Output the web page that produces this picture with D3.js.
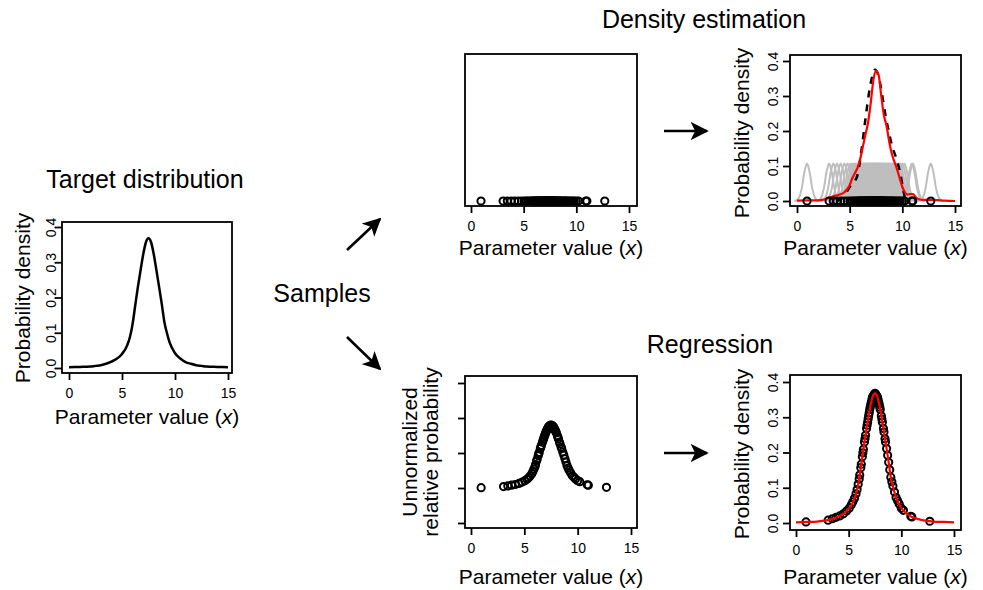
<!DOCTYPE html>
<html>
<head>
<meta charset="utf-8">
<script src="https://cdn.jsdelivr.net/npm/d3@7"></script>
<style>
  body { margin: 0; background: #fff; }
  text { font-family: "Liberation Sans", Arial, sans-serif; fill: #000; }
</style>
</head>
<body>
<div id="chart"></div>
<script>
    const W = 983
    const H = 590

    // axis ticks
    const xTicks = [0, 5, 10, 15]
    const densTicks = [0, 0.1, 0.2, 0.3, 0.4]
    const relTicks = [-1, 0, 1, 2, 3]

    // target density
    const targetX = [0, 1, 2, 2.5, 3, 3.5, 4, 4.5, 5, 5.5, 5.75, 6, 6.25, 6.5, 6.75, 7, 7.25, 7.5,
                     7.75, 8, 8.25, 8.5, 8.75, 9, 9.25, 9.5, 10, 10.5, 11, 11.5, 12, 12.5, 13, 14, 15]
    const targetY = [0.002, 0.003, 0.004, 0.006, 0.008, 0.012, 0.018, 0.026, 0.040, 0.065, 0.088, 0.125, 0.178, 0.230, 0.277, 0.322, 0.356, 0.368,
                     0.356, 0.322, 0.277, 0.230, 0.182, 0.130, 0.098, 0.072, 0.042, 0.027, 0.017, 0.012, 0.008, 0.006, 0.004, 0.003, 0.002]

    // samples drawn from the target
    const sampleX = [0.95, 3.05, 3.45, 3.8, 4.15, 4.5, 4.8, 5.05, 5.25, 5.4,
                     5.55, 5.7, 5.8, 5.9, 6.0, 6.05, 6.15, 6.2, 6.3, 6.35,
                     6.4, 6.5, 6.55, 6.6, 6.7, 6.75, 6.8, 6.85, 6.9, 6.95,
                     7.0, 7.05, 7.1, 7.15, 7.2, 7.25, 7.3, 7.35, 7.4, 7.45,
                     7.5, 7.55, 7.6, 7.65, 7.7, 7.75, 7.8, 7.85, 7.9, 7.95,
                     8.0, 8.1, 8.15, 8.2, 8.3, 8.35, 8.45, 8.5, 8.6, 8.7,
                     8.8, 8.9, 9.0, 9.1, 9.2, 9.35, 9.5, 9.65, 9.8, 10.0,
                     10.2, 10.9, 11.0, 12.7]
    // density at each sample (regression panel)
    const sampleDensity = [0.003, 0.008, 0.012, 0.016, 0.020, 0.026, 0.034, 0.042, 0.052, 0.060,
                           0.070, 0.083, 0.095, 0.110, 0.125, 0.136, 0.157, 0.167, 0.188, 0.199,
                           0.209, 0.230, 0.239, 0.249, 0.268, 0.277, 0.286, 0.295, 0.304, 0.313,
                           0.322, 0.329, 0.336, 0.342, 0.349, 0.356, 0.358, 0.361, 0.363, 0.366,
                           0.368, 0.366, 0.363, 0.361, 0.358, 0.356, 0.349, 0.342, 0.336, 0.329,
                           0.322, 0.304, 0.295, 0.286, 0.268, 0.258, 0.239, 0.230, 0.211, 0.192,
                           0.172, 0.151, 0.130, 0.117, 0.105, 0.088, 0.072, 0.063, 0.054, 0.042,
                           0.036, 0.019, 0.017, 0.005]
    // unnormalized relative probability at each sample
    const sampleRel = [0.01, 0.04, 0.06, 0.08, 0.10, 0.13, 0.17, 0.21, 0.25, 0.29,
                       0.34, 0.41, 0.47, 0.54, 0.61, 0.67, 0.77, 0.82, 0.92, 0.98,
                       1.02, 1.13, 1.17, 1.22, 1.31, 1.36, 1.40, 1.45, 1.49, 1.53,
                       1.58, 1.61, 1.65, 1.68, 1.71, 1.74, 1.75, 1.77, 1.78, 1.79,
                       1.80, 1.79, 1.78, 1.77, 1.75, 1.74, 1.71, 1.68, 1.65, 1.61,
                       1.58, 1.49, 1.45, 1.40, 1.31, 1.26, 1.17, 1.13, 1.03, 0.94,
                       0.84, 0.74, 0.64, 0.57, 0.51, 0.43, 0.35, 0.31, 0.26, 0.21,
                       0.18, 0.09, 0.08, 0.02]

    // kernel density estimate (red, top right)
    const kdeX = [0, 1, 2, 2.5, 3, 3.5, 4, 4.5, 5, 5.25, 5.5, 5.75, 6, 6.25, 6.5, 6.75, 7, 7.25, 7.5, 7.75,
                  8, 8.25, 8.5, 8.75, 9, 9.25, 9.5, 9.75, 10, 10.25, 10.5, 10.75, 11, 11.25, 11.5, 12, 13, 14, 15]
    const kdeY = [0.001, 0.002, 0.002, 0.004, 0.009, 0.014, 0.018, 0.025, 0.045, 0.065, 0.080, 0.095, 0.120, 0.155, 0.190, 0.225, 0.280, 0.345, 0.372, 0.360,
                  0.300, 0.245, 0.215, 0.170, 0.135, 0.112, 0.090, 0.065, 0.040, 0.025, 0.018, 0.020, 0.020, 0.012, 0.006, 0.003, 0.003, 0.001, 0.000]

    // true density over the sample range (black dashed, top right)
    const dashX = [3.8, 4.4, 5.0, 5.7, 6.1, 6.5, 6.9, 7.4, 7.8, 8.1, 8.4, 8.7, 9.0, 9.5, 9.8, 10.1, 10.3]
    const dashY = [0.000, 0.012, 0.040, 0.070, 0.140, 0.235, 0.320, 0.375, 0.350, 0.300, 0.245, 0.200, 0.160, 0.115, 0.080, 0.030, 0.000]

    // shape of one gray kernel bump
    const kernelOffset = [-1.2, -1, -0.75, -0.5, -0.25, 0, 0.25, 0.5, 0.75, 1, 1.2]
    const kernelHeight = [0, 0.002, 0.010, 0.036, 0.082, 0.107, 0.082, 0.036, 0.010, 0.002, 0]

    const svg = d3.select('#chart')
        .append('svg')
        .attr('width', W)
        .attr('height', H)

    // box = [left, top, right, bottom]; xr / yr = range for the x and y domains
    function makePanel(p)
    {
        const x = d3.scaleLinear().domain([0, 15]).range(p.xr)
        const y = d3.scaleLinear().domain(p.ydom).range(p.yr)
        const g = svg.append('g')

        g.append('rect')
            .attr('x', p.box[0]).attr('y', p.box[1])
            .attr('width', p.box[2] - p.box[0]).attr('height', p.box[3] - p.box[1])
            .attr('fill', 'none').attr('stroke', '#000').attr('stroke-width', 1.8)

        const ax = g.append('g')
            .attr('transform', 'translate(0,' + p.box[3] + ')')
            .call(d3.axisBottom(x).tickValues(xTicks).tickSize(7).tickPadding(8))
        ax.select('.domain').remove()
        ax.selectAll('line').attr('stroke-width', 1.8)
        ax.selectAll('text').attr('font-size', 14).style('font-family', '"Liberation Sans", Arial, sans-serif')

        g.append('text')
            .attr('x', (p.box[0] + p.box[2]) / 2)
            .attr('y', p.xlab)
            .attr('text-anchor', 'middle')
            .attr('font-size', 21)
            .html('Parameter value (<tspan font-style="italic">x</tspan>)')

        if (p.yticks) {
            const ay = g.append('g')
                .attr('transform', 'translate(' + p.box[0] + ',0)')
                .call(d3.axisLeft(y).tickValues(p.yticks).tickSize(7)
                    .tickFormat(p.ylabels ? d3.format('.1f') : ''))
            ay.select('.domain').remove()
            ay.selectAll('line').attr('stroke-width', 1.8)
            ay.selectAll('text')
                .attr('x', null).attr('dy', null)
                .attr('text-anchor', 'middle')
                .attr('font-size', 14)
                .style('font-family', '"Liberation Sans", Arial, sans-serif')
                .attr('transform', 'translate(' + (-p.ylabOff) + ',0) rotate(-90)')
        }
        return { g: g, x: x, y: y }
    }

    function curve(panel, xs, ys, color, width, dash)
    {
        const line = d3.line()
            .x(function(d, i){ return panel.x(xs[i]) })
            .y(function(d, i){ return panel.y(ys[i]) })
            .curve(d3.curveMonotoneX)
        const path = panel.g.append('path')
            .attr('d', line(xs))
            .attr('fill', 'none')
            .attr('stroke', color)
            .attr('stroke-width', width)
            .attr('stroke-linejoin', 'round')
        if (dash) path.attr('stroke-dasharray', dash)
        return path
    }

    function circles(panel, xs, ys)
    {
        panel.g.selectAll(null)
            .data(xs)
            .enter()
            .append('circle')
            .attr('cx', function(d){ return panel.x(d) })
            .attr('cy', function(d, i){ return panel.y(ys[i]) })
            .attr('r', 3.6)
            .attr('fill', 'none')
            .attr('stroke', '#000')
            .attr('stroke-width', 2)
    }

    function yLabel(t, x, cy)
    {
        svg.append('text')
            .attr('transform', 'translate(' + x + ',' + cy + ') rotate(-90)')
            .attr('text-anchor', 'middle')
            .attr('font-size', 21)
            .text(t)
    }

    function title(t, cx, by, size)
    {
        svg.append('text')
            .attr('x', cx).attr('y', by)
            .attr('text-anchor', 'middle')
            .attr('font-size', size)
            .text(t)
    }

    // ---- target distribution
    const pTarget = makePanel({ box: [62, 222, 232, 373], xr: [69, 228], ydom: [0, 0.4], yr: [368, 227],
                                yticks: densTicks, ylabels: true, ylabOff: 6, xlab: 424 })
    curve(pTarget, targetX, targetY, '#000', 2.5)
    yLabel('Probability density', 30, 298)
    title('Target distribution', 145, 188, 25)

    // ---- samples only
    const zeros = sampleX.map(function(){ return 0 })
    const pSamples = makePanel({ box: [465, 54, 637, 206], xr: [471, 629], ydom: [0, 0.4], yr: [201, 61], xlab: 255 })
    circles(pSamples, sampleX, zeros)

    // ---- density estimation
    const pKde = makePanel({ box: [790, 55, 961, 206], xr: [797, 955], ydom: [0, 0.4], yr: [201, 61],
                             yticks: densTicks, ylabels: true, ylabOff: 12, xlab: 255 })
    sampleX.forEach(function(s){
        const bx = kernelOffset.map(function(o){ return s + o })
        curve(pKde, bx, kernelHeight, '#bebebe', 2)
    })
    curve(pKde, dashX, dashY, '#000', 2.5, '7,7')
    curve(pKde, kdeX, kdeY, '#ff0000', 2.2)
    circles(pKde, sampleX, zeros)
    yLabel('Probability density', 749, 133)
    title('Density estimation', 704, 28, 25)

    // ---- relative probability at samples
    const pRel = makePanel({ box: [465, 376, 637, 528], xr: [471, 631], ydom: [-1, 3], yr: [523, 383],
                             yticks: relTicks, ylabels: false, ylabOff: 12, xlab: 584 })
    circles(pRel, sampleX, sampleRel)
    yLabel('Unnormalized', 417, 452)
    yLabel('relative probability', 438, 452)

    // ---- regression
    const pReg = makePanel({ box: [790, 375, 961, 530], xr: [796, 954], ydom: [0, 0.4], yr: [523, 382],
                             yticks: densTicks, ylabels: true, ylabOff: 12, xlab: 584 })
    circles(pReg, sampleX, sampleDensity)
    curve(pReg, targetX, targetY, '#ff0000', 2.2)
    yLabel('Probability density', 749, 454)
    title('Regression', 710, 353, 25)

    // ---- "Samples" and arrows
    title('Samples', 322, 302, 25)

    svg.append('defs').append('marker')
        .attr('id', 'head')
        .attr('viewBox', '0 0 10 10')
        .attr('refX', 9).attr('refY', 5)
        .attr('markerWidth', 7).attr('markerHeight', 7)
        .attr('markerUnits', 'strokeWidth')
        .attr('orient', 'auto')
        .append('path')
        .attr('d', 'M0,0 L10,5 L0,10 L2.5,5 Z')
        .attr('fill', '#000')

    const arrows = [
        [347, 250, 380, 219],
        [347, 337, 380, 369],
        [664, 131, 707, 131],
        [664, 453, 707, 453]
    ]
    arrows.forEach(function(a){
        svg.append('line')
            .attr('x1', a[0]).attr('y1', a[1]).attr('x2', a[2]).attr('y2', a[3])
            .attr('stroke', '#000').attr('stroke-width', 2.6)
            .attr('marker-end', 'url(#head)')
    })
</script>
</body>
</html>
